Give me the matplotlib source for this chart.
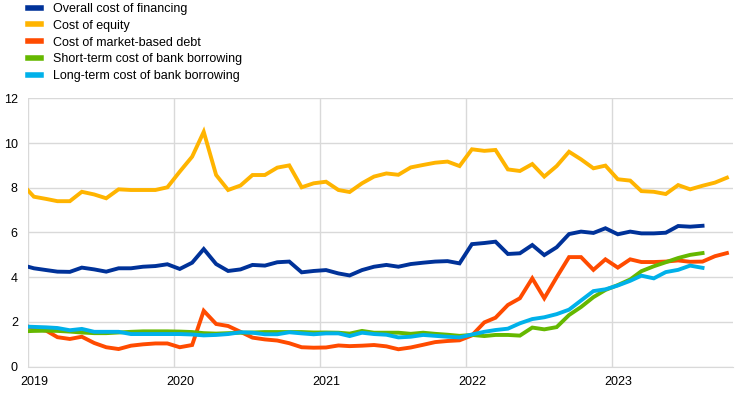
import matplotlib
matplotlib.use("Agg")
import matplotlib.pyplot as plt
import matplotlib.dates as mdates
import matplotlib.transforms as mtransforms
import pandas as pd

# monthly observations (mid-month), Dec 2018 - Oct 2023
months = pd.date_range("2018-12-01", "2023-10-01", freq="MS") + pd.Timedelta(days=14)

overall = [4.55,
           4.4, 4.32, 4.25, 4.24, 4.43, 4.35, 4.25, 4.4, 4.4, 4.47, 4.5, 4.58,
           4.37, 4.65, 5.26, 4.59, 4.28, 4.35, 4.55, 4.52, 4.67, 4.7, 4.22, 4.28,
           4.32, 4.17, 4.08, 4.32, 4.47, 4.55, 4.47, 4.59, 4.65, 4.7, 4.72, 4.62,
           5.48, 5.53, 5.59, 5.04, 5.07, 5.44, 4.99, 5.34, 5.93, 6.04, 5.98, 6.19,
           5.92, 6.04, 5.96, 5.96, 5.99, 6.29, 6.26, 6.3]
equity = [8.2,
          7.6, 7.5, 7.4, 7.4, 7.82, 7.7, 7.53, 7.93, 7.9, 7.9, 7.9, 8.02,
          8.72, 9.39, 10.5, 8.57, 7.9, 8.1, 8.57, 8.57, 8.9, 9.0, 8.02, 8.2,
          8.27, 7.9, 7.81, 8.2, 8.5, 8.64, 8.58, 8.91, 9.02, 9.12, 9.17, 8.97,
          9.72, 9.65, 9.69, 8.82, 8.75, 9.06, 8.5, 8.97, 9.61, 9.27, 8.87, 8.99,
          8.38, 8.32, 7.85, 7.82, 7.72, 8.12, 7.93, 8.09, 8.23, 8.45]
market_debt = [1.9,
               1.7, 1.61, 1.32, 1.24, 1.34, 1.06, 0.87, 0.79, 0.94, 1.0, 1.04, 1.04,
               0.87, 0.97, 2.5, 1.91, 1.82, 1.56, 1.3, 1.22, 1.17, 1.05, 0.87, 0.85,
               0.86, 0.95, 0.92, 0.94, 0.97, 0.91, 0.78, 0.86, 0.98, 1.1, 1.15, 1.18,
               1.4, 1.98, 2.19, 2.76, 3.06, 3.95, 3.06, 4.0, 4.9, 4.9, 4.33, 4.8,
               4.43, 4.8, 4.68, 4.68, 4.7, 4.75, 4.69, 4.7, 4.94, 5.08]
short_bank = [1.58,
              1.6, 1.61, 1.6, 1.57, 1.53, 1.5, 1.5, 1.53, 1.56, 1.58, 1.58, 1.58,
              1.57, 1.55, 1.5, 1.48, 1.5, 1.52, 1.53, 1.55, 1.55, 1.55, 1.55, 1.53,
              1.53, 1.52, 1.48, 1.6, 1.52, 1.52, 1.52, 1.47, 1.52, 1.47, 1.43, 1.38,
              1.42, 1.37, 1.42, 1.42, 1.39, 1.75, 1.67, 1.77, 2.31, 2.67, 3.11, 3.43,
              3.65, 3.9, 4.27, 4.49, 4.67, 4.86, 5.0, 5.08]
long_bank = [1.8,
             1.78, 1.76, 1.73, 1.63, 1.69, 1.56, 1.56, 1.56, 1.46, 1.46, 1.46, 1.46,
             1.46, 1.44, 1.4, 1.42, 1.46, 1.54, 1.52, 1.45, 1.45, 1.54, 1.49, 1.45,
             1.49, 1.49, 1.37, 1.52, 1.46, 1.43, 1.31, 1.34, 1.42, 1.38, 1.34, 1.31,
             1.44, 1.56, 1.64, 1.7, 1.94, 2.13, 2.21, 2.35, 2.55, 2.96, 3.38, 3.46,
             3.63, 3.84, 4.07, 3.95, 4.23, 4.33, 4.52, 4.42]

labels = ["Overall cost of financing", "Cost of equity", "Cost of market-based debt",
          "Short-term cost of bank borrowing", "Long-term cost of bank borrowing"]
colors = ["#003299", "#ffb400", "#ff4b00", "#65b800", "#00b1ea"]
series = [overall, equity, market_debt, short_bank, long_bank]

plt.rcParams["font.family"] = ["Liberation Sans", "DejaVu Sans"]
plt.rcParams["font.size"] = 9

fig = plt.figure(figsize=(7.42, 3.93), dpi=100)
ax = fig.add_axes([0.0381, 0.0669, 0.9502, 0.683])

for vals, lab, col in zip(series, labels, colors):
    ax.plot(months[:len(vals)], vals, color=col, lw=2.8, label=lab,
            solid_joinstyle="miter")

ax.set_ylim(0, 12)
ax.set_yticks(range(0, 13, 2))
ax.set_xlim(pd.Timestamp("2019-01-01"), pd.Timestamp("2023-10-31"))
ax.xaxis.set_major_locator(mdates.YearLocator())
ax.xaxis.set_major_formatter(mdates.DateFormatter("%Y"))

ax.grid(True, color="#d9d9d9", lw=1)
ax.set_axisbelow(True)
for s in ["top", "right", "left"]:
    ax.spines[s].set_visible(False)
ax.spines["bottom"].set_color("#d9d9d9")
ax.tick_params(length=0, colors="black", labelsize=9)
ax.tick_params(axis="y", pad=7.5)
ax.tick_params(axis="x", pad=6.5)

# year labels sit slightly right of the gridline
shift = mtransforms.ScaledTranslation(5.8 / 100, 0, fig.dpi_scale_trans)
for t in ax.get_xticklabels():
    t.set_transform(t.get_transform() + shift)

leg = fig.legend(loc="upper left", bbox_to_anchor=(28 / 742, 1 - 3 / 393), frameon=False,
                 fontsize=9, handlelength=1.0, handletextpad=1.0, labelspacing=0.38,
                 borderpad=0, borderaxespad=0)
for h in leg.get_lines():
    h.set_linewidth(4)

fig.savefig("out.png", dpi=100)
